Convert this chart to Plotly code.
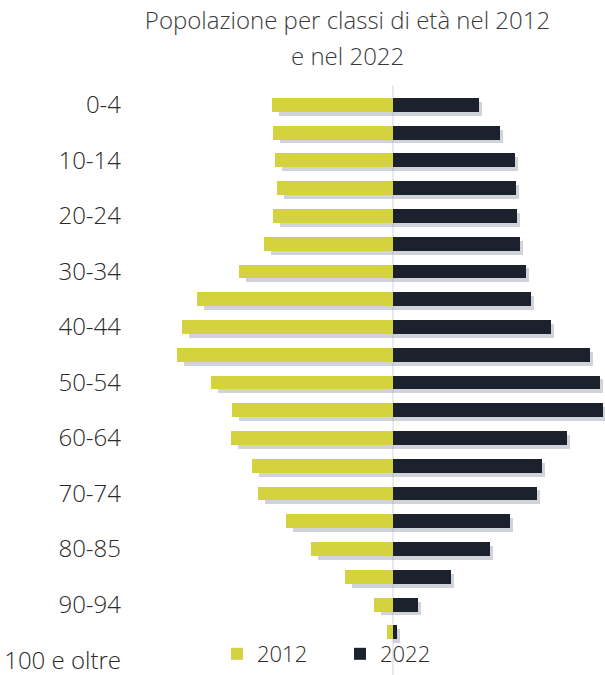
import plotly.graph_objects as go

# Age classes (top to bottom)
classes = ["0-4", "5-9", "10-14", "15-19", "20-24", "25-29", "30-34", "35-39",
           "40-44", "45-49", "50-54", "55-59", "60-64", "65-69", "70-74", "75-79",
           "80-85", "85-89", "90-94", "95-99", "100 e oltre"]

# Values (arbitrary units, proportional to bar length)
pop_2012 = [121, 120, 118, 116, 120, 129, 154, 196, 211, 216, 182, 161, 162,
            141, 135, 107, 82, 48, 19, 6, 0]
pop_2022 = [86, 107, 122, 123, 124, 127, 133, 138, 158, 197, 207, 210, 174,
            149, 144, 117, 97, 58, 25, 4, 0]

tick_labels = ["0-4", "10-14", "20-24", "30-34", "40-44", "50-54", "60-64",
               "70-74", "80-85", "90-94", "100 e oltre"]

YELLOW = "#d4d23e"
DARK = "#1b212d"
SHADOW = "rgba(150,158,170,0.45)"
TEXT = "#2a2a2a"
FONT = "Open Sans"
FS = 24
BW = 0.5          # bar thickness (category units)
SH = 0.14         # shadow vertical shift (category units)

fig = go.Figure()
# soft drop shadows (decorative, drawn first so they sit behind the bars)
fig.add_trace(go.Bar(
    y=classes, x=[-max(v - 7, 0) for v in pop_2012], orientation="h",
    marker=dict(color=SHADOW, line=dict(width=0)), width=BW, offset=-BW / 2 + SH,
    showlegend=False, hoverinfo="skip",
))
fig.add_trace(go.Bar(
    y=classes, x=[v + 3 if v > 0 else 0 for v in pop_2022], orientation="h",
    marker=dict(color=SHADOW, line=dict(width=0)), width=BW, offset=-BW / 2 + SH,
    showlegend=False, hoverinfo="skip",
))
fig.add_trace(go.Bar(
    y=classes, x=[-v for v in pop_2012], orientation="h", name="2012",
    marker=dict(color=YELLOW, line=dict(width=0)), width=BW, offset=-BW / 2,
    hoverinfo="skip",
))
fig.add_trace(go.Bar(
    y=classes, x=pop_2022, orientation="h", name="2022",
    marker=dict(color=DARK, line=dict(width=0)), width=BW, offset=-BW / 2,
    hoverinfo="skip",
))

fig.add_shape(type="line", xref="x", yref="paper", x0=0, x1=0, y0=-0.01, y1=1.01,
              line=dict(color="#dfe4ea", width=1.5), layer="below")

fig.update_layout(
    width=605, height=675,
    margin=dict(l=130, r=0, t=91, b=1, autoexpand=False),
    paper_bgcolor="white", plot_bgcolor="white",
    barmode="overlay", bargap=0,
    font=dict(family=FONT, size=FS, color=TEXT, weight=300),
    title=dict(text="Popolazione per classi di età nel 2012",
               x=347.5 / 605, xref="container", xanchor="center",
               y=1 - 21 / 675, yref="container", yanchor="middle",
               font=dict(family=FONT, size=FS, color="#3a3a3a", weight=300)),
    annotations=[dict(text="e nel 2022", xref="paper", yref="paper",
                      x=(347.5 - 130) / 475, y=1 + (91 - 55) / 583,
                      xanchor="center", yanchor="middle", showarrow=False,
                      font=dict(family=FONT, size=FS, color="#3a3a3a", weight=300))],
    xaxis=dict(range=[-263, 212], visible=False, fixedrange=True),
    yaxis=dict(categoryorder="array", categoryarray=classes,
               range=[20.5, -0.5], tickvals=tick_labels, ticktext=tick_labels,
               showgrid=False, zeroline=False, showline=False, ticks="",
               ticklabelstandoff=8,
               tickfont=dict(family=FONT, size=FS, color=TEXT, weight=300)),
    showlegend=True,
    legend=dict(orientation="h", x=(217 - 130) / 475, y=0, yref="container",
                xanchor="left", yanchor="bottom", bgcolor="rgba(0,0,0,0)",
                font=dict(family=FONT, size=22, color=TEXT, weight=300),
                entrywidth=78, entrywidthmode="pixels", traceorder="normal"),
)

fig.write_html("out.html")
